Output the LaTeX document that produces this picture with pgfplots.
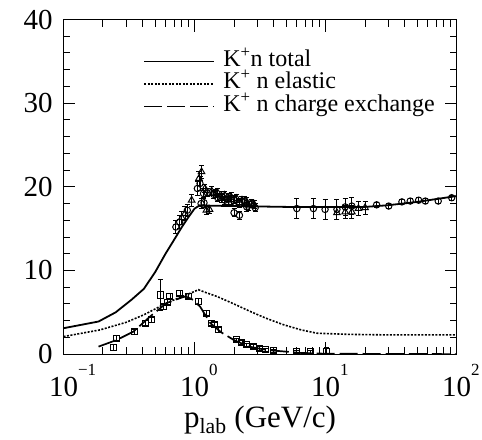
\documentclass[border=0pt]{standalone}
\usepackage{fontspec}
\setmainfont{Liberation Serif}
\usepackage{pgfplots}
\pgfplotsset{compat=1.18}
\usepackage{pgfplotstable}

% K+ n total cross section data: p_lab, sigma, error
\pgfplotstableread{
x y e
0.72 15.2 0.8
0.77 15.8 0.8
0.88 17.2 0.7
1.05 19.8 0.8
1.10 20.4 0.8
1.17 19.2 0.6
1.12 18.0 0.6
1.18 18.1 0.6
1.25 19.3 0.5
1.4 19.1 0.5
1.5 18.7 0.5
1.6 18.9 0.5
1.7 18.4 0.5
1.8 18.7 0.5
1.9 18.2 0.5
2.0 18.5 0.5
2.0 16.9 0.5
2.2 16.6 0.5
2.2 18.0 0.5
2.4 18.3 0.5
2.5 17.6 0.5
2.7 18.0 0.5
2.9 17.5 0.5
6.03 17.4 1.2
8.07 17.4 1.2
9.9 17.3 1.2
12.2 17.3 1.2
14.1 17.6 1.0
15.85 17.7 1.0
24.5 17.85 0.3
30.3 17.7 0.3
38.2 18.2 0.3
44.2 18.3 0.3
51.2 18.4 0.3
57.7 18.3 0.3
72.3 18.3 0.3
91.6 18.7 0.3
}\totcirc

\pgfplotstableread{
x y e
0.80 16.3 0.8
0.845 16.8 0.8
0.95 18.4 0.7
1.13 21.8 0.8
1.08 21.0 0.8
1.23 17.2 0.5
1.30 17.3 0.5
1.2 19.8 0.5
1.35 19.5 0.5
1.45 19.2 0.5
1.5 19.3 0.5
1.6 18.6 0.5
1.7 19.0 0.5
1.8 18.4 0.5
1.9 18.8 0.5
2.1 18.6 0.5
2.2 18.1 0.5
2.3 18.4 0.5
2.5 18.2 0.5
2.6 17.7 0.5
2.7 18.0 0.5
2.85 17.9 0.5
12.2 16.9 0.8
14.1 17.0 0.8
15.85 17.0 0.8
17.8 17.4 0.8
20.0 17.5 0.8
}\tottri

% charge exchange data
\pgfplotstableread{
x y e
0.24 0.8 0.3
0.255 1.9 0.3
0.35 2.7 0.3
0.42 3.7 0.3
0.47 4.1 0.3
0.546 7.07 1.8
0.58 5.7 0.3
0.62 6.2 0.3
0.649 6.9 0.3
0.774 7.3 0.3
0.896 6.9 0.3
1.07 6.3 0.3
1.23 4.9 0.3
1.35 3.7 0.3
1.43 3.5 0.3
1.52 2.9 0.3
2.09 1.7 0.2
2.3 1.4 0.2
2.5 1.1 0.2
2.8 0.9 0.2
3.15 0.7 0.2
3.5 0.5 0.2
4.0 0.4 0.2
6.0 0.3 0.2
7.6 0.3 0.2
10.2 0.3 0.5
}\cexdata

\newcommand{\dec}[1]{10\rlap{\raisebox{21pt}{\fontsize{17}{17}\selectfont #1}}}

\begin{document}
\begin{tikzpicture}
\begin{axis}[
  scale only axis,
  width=393pt, height=334.5pt,
  xmode=log, xmin=0.1, xmax=100,
  ymin=0, ymax=40,
  xtick={0.1,1,10,100},
  xticklabels={\dec{−1},\dec{0},\dec{1},\dec{2}},
  minor xtick={0.2,0.3,0.4,0.5,0.6,0.7,0.8,0.9,2,3,4,5,6,7,8,9,20,30,40,50,60,70,80,90},
  ytick={0,10,20,30,40},
  minor y tick num=4,
  tick align=inside,
  major tick length=12pt, minor tick length=7pt,
  every tick/.style={black, line width=1pt},
  axis line style={line width=1.2pt},
  /pgf/number format/assume math mode=true,
  tick label style={font=\fontsize{29}{32}\selectfont},
  xticklabel style={anchor=base, inner sep=0pt, yshift=-42pt},
  yticklabel style={anchor=east, inner sep=0pt, xshift=-10.6pt},
  xlabel={p\textsubscript{lab} (GeV/c)},
  xlabel style={font=\fontsize{31}{34}\selectfont, at={(axis description cs:0.5,0)}, anchor=base, yshift=-73pt, inner sep=0pt},
  legend style={at={(0.203,0.9088)}, anchor=north west, draw=none, fill=none,
    font=\fontsize{24}{24}\selectfont, inner sep=0pt, row sep=0pt,
    nodes={text height=16pt, text depth=6.5pt, inner sep=0pt}},
  legend cell align=left,
  legend image code/.code={\draw[#1] (0pt,0pt) -- (70pt,0pt); \path (78pt,0pt);},
  error bars/error bar style={line width=0.9pt, black},
  error bars/error mark options={rotate=90, mark size=2.5pt, line width=0.9pt},
]
% total cross section
\addplot[black, line width=1.8pt] coordinates {
 (0.1,3.1) (0.185,3.9) (0.25,5.0) (0.33,6.5) (0.41,7.8) (0.5,9.8) (0.6,12.0)
 (0.7,13.7) (0.8,15.2) (0.9,16.4) (1.0,17.4) (1.1,17.8) (1.3,17.75) (2,17.7)
 (5,17.6) (10,17.6) (20,17.6) (30,17.8) (50,18.2) (100,18.9)};
\addlegendentry{K\textsuperscript{+}n total}
% elastic
\addplot[black, line width=1.6pt, dash pattern=on 2pt off 1.5pt] coordinates {
 (0.1,2.1) (0.19,2.9) (0.3,3.8) (0.41,4.7) (0.5,5.4) (0.61,6.1) (0.75,6.7)
 (0.87,7.1) (1.0,7.5) (1.07,7.7) (1.2,7.4) (1.48,6.9) (2.0,6.0) (2.66,5.1)
 (3.5,4.3) (4.8,3.5) (6.5,2.9) (8.6,2.5) (15.4,2.36) (30,2.3) (100,2.3)};
\addlegendentry{K\textsuperscript{+} n elastic}
% charge exchange
\addplot[black, line width=1.7pt, dash pattern=on 18pt off 5pt] coordinates {
 (0.185,0.9) (0.255,1.7) (0.342,2.7) (0.458,4.5) (0.61,6.1) (0.777,6.7)
 (0.85,6.9) (0.95,6.6) (1.1,5.7) (1.32,3.7) (1.6,2.6) (1.99,1.7) (2.6,0.9)
 (3.55,0.5) (6.4,0.15) (10,0.05) (100,0)};
\addlegendentry{K\textsuperscript{+} n charge exchange}

% measurements
\addplot[forget plot, only marks, mark=o, mark size=3.2pt, mark options={line width=1pt, fill=white},
  error bars/.cd, y dir=both, y explicit]
  table[x=x, y=y, y error=e] {\totcirc};
\addplot[forget plot, only marks, mark=triangle, mark size=3.8pt, mark options={line width=1pt},
  error bars/.cd, y dir=both, y explicit]
  table[x=x, y=y, y error=e] {\tottri};
\addplot[forget plot, only marks, mark=square, mark size=3pt, mark options={line width=1pt},
  error bars/.cd, y dir=both, y explicit]
  table[x=x, y=y, y error=e] {\cexdata};
\end{axis}
\pgfresetboundingbox
\path ([xshift=-63.5pt,yshift=-85pt]current axis.south west) rectangle ([xshift=25.3pt,yshift=19.5pt]current axis.north east);
\end{tikzpicture}
\end{document}
